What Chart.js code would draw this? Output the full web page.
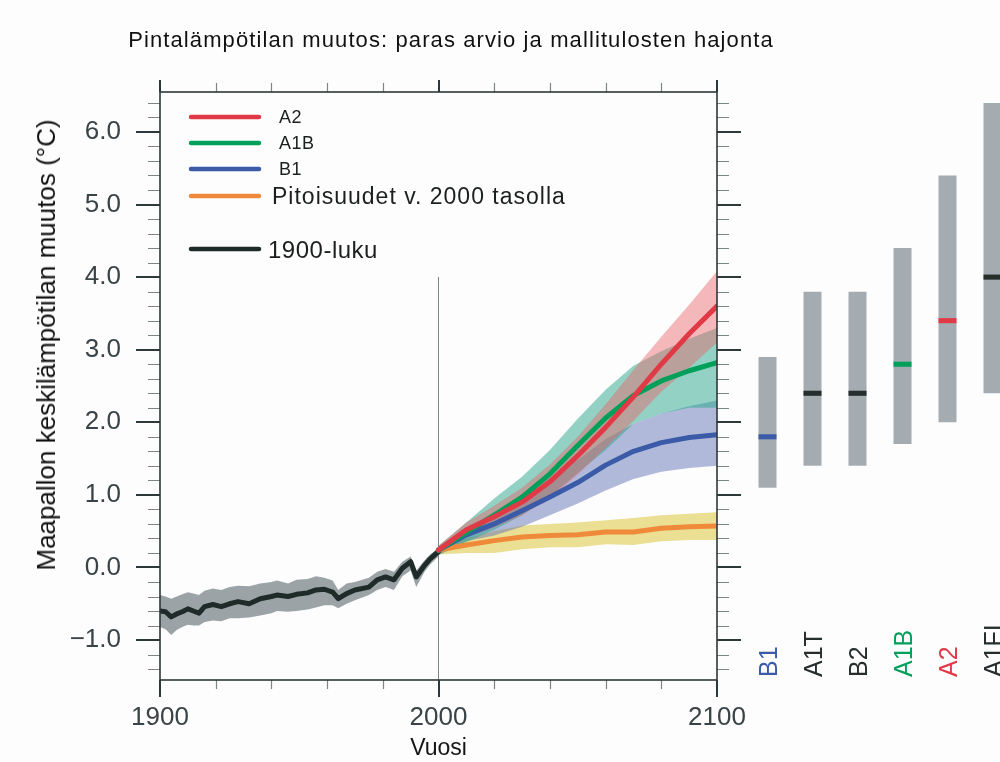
<!DOCTYPE html>
<html>
<head>
<meta charset="utf-8">
<script src="https://cdn.jsdelivr.net/npm/chart.js@4.4.1/dist/chart.umd.min.js"></script>
<style>
  html, body { margin: 0; padding: 0; background: #fdfdfd; overflow: hidden; }
  body { width: 1000px; height: 762px; position: relative; font-family: "Liberation Sans", Arial, sans-serif; }
  #main { position: absolute; left: 0; top: 0; }
  #side { position: absolute; left: 745px; top: 0; }
  #title { position: absolute; left: 0; width: 902px; top: 27px; line-height: 26px; text-align: center; font-size: 22px; letter-spacing: 1.1px; color: #111; }
  #ytitle { position: absolute; left: 46px; top: 345px; transform: translate(-50%, -50%) rotate(-90deg); white-space: nowrap; font-size: 26px; line-height: 30px; color: #111; }
</style>
</head>
<body>
<canvas id="main" width="1000" height="762"></canvas>
<canvas id="side" width="270" height="762"></canvas>
<div id="title">Pintalämpötilan muutos: paras arvio ja mallitulosten hajonta</div>
<div id="ytitle">Maapallon keskilämpötilan muutos (°C)</div>
<script>
// 1900-luku (havainnot)
const histYears = [1900, 1902, 1904, 1906, 1908, 1910, 1912, 1914, 1916, 1919, 1922, 1925, 1928, 1932, 1936, 1940, 1942, 1946, 1949, 1953, 1956, 1959, 1962, 1964, 1967, 1970, 1975, 1978, 1981, 1984, 1987, 1990, 1992, 1995, 1997, 2000];
const histMean = [-0.60, -0.61, -0.68, -0.64, -0.61, -0.57, -0.60, -0.63, -0.54, -0.51, -0.54, -0.50, -0.47, -0.50, -0.43, -0.40, -0.38, -0.40, -0.37, -0.35, -0.31, -0.30, -0.34, -0.43, -0.36, -0.31, -0.27, -0.17, -0.13, -0.17, -0.01, 0.08, -0.13, 0.03, 0.12, 0.22];
const histLow = [-0.82, -0.85, -0.93, -0.86, -0.82, -0.79, -0.80, -0.80, -0.75, -0.73, -0.74, -0.70, -0.70, -0.69, -0.66, -0.63, -0.60, -0.61, -0.60, -0.58, -0.55, -0.52, -0.52, -0.56, -0.50, -0.45, -0.38, -0.31, -0.27, -0.31, -0.12, -0.04, -0.27, -0.06, 0.04, 0.15];
const histHigh = [-0.38, -0.40, -0.43, -0.40, -0.37, -0.34, -0.36, -0.38, -0.32, -0.29, -0.31, -0.27, -0.25, -0.26, -0.22, -0.20, -0.18, -0.22, -0.17, -0.16, -0.12, -0.14, -0.18, -0.31, -0.22, -0.20, -0.14, -0.06, -0.02, -0.06, 0.08, 0.15, -0.04, 0.10, 0.18, 0.27];

// skenaariot 2000-2100
const projYears = [2000, 2010, 2020, 2030, 2040, 2050, 2060, 2070, 2080, 2090, 2100];
const a2Mean = [0.24, 0.52, 0.70, 0.90, 1.18, 1.54, 1.93, 2.35, 2.80, 3.22, 3.60];
const a2Low = [0.18, 0.42, 0.55, 0.72, 0.95, 1.28, 1.65, 2.02, 2.42, 2.75, 3.10];
const a2High = [0.30, 0.62, 0.85, 1.10, 1.42, 1.80, 2.25, 2.72, 3.18, 3.62, 4.08];
const a1bMean = [0.24, 0.48, 0.72, 0.97, 1.29, 1.68, 2.06, 2.37, 2.57, 2.71, 2.82];
const a1bLow = [0.17, 0.35, 0.52, 0.72, 0.98, 1.30, 1.62, 1.98, 2.12, 2.20, 2.20];
const a1bHigh = [0.30, 0.62, 0.95, 1.25, 1.62, 2.05, 2.45, 2.78, 2.98, 3.15, 3.30];
const b1Mean = [0.24, 0.45, 0.60, 0.78, 0.97, 1.17, 1.41, 1.60, 1.72, 1.79, 1.83];
const b1Low = [0.18, 0.36, 0.44, 0.56, 0.72, 0.88, 1.06, 1.22, 1.32, 1.37, 1.40];
const b1High = [0.29, 0.55, 0.76, 1.00, 1.24, 1.48, 1.77, 1.98, 2.12, 2.22, 2.30];
const constMean = [0.24, 0.31, 0.37, 0.42, 0.44, 0.45, 0.49, 0.49, 0.54, 0.56, 0.57];
const constLow = [0.18, 0.20, 0.20, 0.25, 0.28, 0.28, 0.32, 0.31, 0.36, 0.38, 0.38];
const constHigh = [0.29, 0.40, 0.50, 0.58, 0.60, 0.62, 0.65, 0.68, 0.72, 0.74, 0.76];

// akselit
const xTickValues = [1900, 2000, 2100];
const xMinorTicks = [1920, 1940, 1960, 1980, 2020, 2040, 2060, 2080];
const yTickValues = [-1, 0, 1, 2, 3, 4, 5, 6];

// pylväät oikealla (2090-2099)
const scenarios = ["B1", "A1T", "B2", "A1B", "A2", "A1FI"];
const rangeLow = [1.1, 1.4, 1.4, 1.7, 2.0, 2.4];
const rangeHigh = [2.9, 3.8, 3.8, 4.4, 5.4, 6.4];
const bestEstimate = [1.8, 2.4, 2.4, 2.8, 3.4, 4.0];

const legendLabels = ["A2", "A1B", "B1", "Pitoisuudet v. 2000 tasolla", "1900-luku"];

const RED = "#e13a47", GREEN = "#00a05b", BLUE = "#3b5ba8", ORANGE = "#ef8a3b", BLACK = "#1f2b29";
const DARK = "#252d2d";
const legendColors = [RED, GREEN, BLUE, ORANGE, BLACK];
const scenarioColors = [BLUE, DARK, DARK, GREEN, RED, DARK];

Chart.defaults.font.family = '"Liberation Sans", Arial, sans-serif';

const pts = (xs, ys) => xs.map((x, i) => ({ x, y: ys[i] }));

function line(years, values, color, width) {
  return { data: pts(years, values), borderColor: color, borderWidth: width, fill: false,
           borderCapStyle: "round", borderJoinStyle: "round" };
}

function band(years, low, high, color) {
  return [
    { data: pts(years, low), borderWidth: 0, borderColor: "transparent", fill: false },
    { data: pts(years, high), borderWidth: 0, borderColor: "transparent", backgroundColor: color, fill: "-1" },
  ];
}

const frameTicks = {
  id: "frameTicks",
  afterDatasetsDraw(chart) {
    const { ctx, chartArea: a, scales: { x, y } } = chart;
    ctx.save();
    ctx.strokeStyle = "#7d8585";
    ctx.lineWidth = 1.2;
    ctx.beginPath();
    for (let v = -1.4; v < 6.5; v += 0.2) {
      if (Math.abs(v - Math.round(v)) < 0.01) continue;
      const p = Math.round(y.getPixelForValue(v)) + 0.5;
      ctx.moveTo(a.left - 12, p); ctx.lineTo(a.left, p);
      ctx.moveTo(a.right, p); ctx.lineTo(a.right + 12, p);
    }
    xMinorTicks.forEach(v => {
      const p = Math.round(x.getPixelForValue(v)) + 0.5;
      ctx.moveTo(p, a.bottom); ctx.lineTo(p, a.bottom + 9);
      ctx.moveTo(p, a.top); ctx.lineTo(p, a.top - 9);
    });
    ctx.stroke();

    ctx.strokeStyle = "#2d3838";
    ctx.lineWidth = 2;
    ctx.beginPath();
    yTickValues.forEach(v => {
      const p = Math.round(y.getPixelForValue(v));
      ctx.moveTo(a.left - 24, p); ctx.lineTo(a.left, p);
      ctx.moveTo(a.right, p); ctx.lineTo(a.right + 24, p);
    });
    xTickValues.forEach(v => {
      const p = Math.round(x.getPixelForValue(v));
      ctx.moveTo(p, a.bottom); ctx.lineTo(p, a.bottom + 17);
      ctx.moveTo(p, a.top); ctx.lineTo(p, a.top - 12);
    });
    ctx.stroke();
    ctx.lineWidth = 1.6;
    ctx.strokeRect(a.left, a.top, a.right - a.left, a.bottom - a.top);
    ctx.restore();
  }
};

const legendBox = {
  id: "legendBox",
  afterDraw(chart) {
    const { ctx } = chart;
    const rowY = [117, 143, 169, 196, 249];
    const sizes = [18, 18, 18, 23, 24];
    const textX = [279, 279, 279, 272, 268];
    ctx.save();
    ctx.lineCap = "round";
    legendLabels.forEach((label, i) => {
      ctx.strokeStyle = legendColors[i];
      ctx.lineWidth = 4.5;
      ctx.beginPath();
      ctx.moveTo(191, rowY[i]); ctx.lineTo(259, rowY[i]);
      ctx.stroke();
      ctx.fillStyle = "#1c1f1f";
      ctx.font = sizes[i] + 'px "Liberation Sans", Arial, sans-serif';
      ctx.letterSpacing = i === 3 ? "1px" : "0.5px";
      ctx.textBaseline = "alphabetic";
      ctx.fillText(label, textX[i], rowY[i] + sizes[i] * 0.36);
    });
    ctx.restore();
  }
};

new Chart(document.getElementById("main"), {
  type: "line",
  data: {
    datasets: [
      line(projYears, a2Mean, RED, 5),
      line(projYears, a1bMean, GREEN, 5),
      line(projYears, b1Mean, BLUE, 5),
      line(projYears, constMean, ORANGE, 5),
      line(histYears, histMean, BLACK, 5),
      ...band(projYears, a2Low, a2High, "rgba(232, 100, 105, 0.45)"),
      ...band(projYears, a1bLow, a1bHigh, "rgba(40, 165, 140, 0.5)"),
      ...band(projYears, b1Low, b1High, "rgba(95, 110, 180, 0.48)"),
      ...band(projYears, constLow, constHigh, "rgba(218, 198, 60, 0.55)"),
      ...band(histYears, histLow, histHigh, "#9ba3a7"),
      { data: [{ x: 2000, y: 4.0 }, { x: 2000, y: -1.55 }], borderColor: "#7e8686", borderWidth: 1, fill: false },
    ]
  },
  options: {
    responsive: false,
    animation: false,
    devicePixelRatio: 1,
    layout: { padding: { top: 92, right: 283, bottom: 0, left: 0 } },
    plugins: { legend: { display: false }, tooltip: { enabled: false } },
    elements: { point: { radius: 0 }, line: { tension: 0 } },
    scales: {
      x: {
        type: "linear", min: 1900, max: 2100,
        afterBuildTicks: s => { s.ticks = xTickValues.map(v => ({ value: v })); },
        afterFit: s => { s.height = 82; },
        grid: { display: false, drawTicks: false },
        border: { display: false },
        ticks: { padding: 22, color: "#3a4345", font: { size: 26 }, maxRotation: 0, callback: v => String(v) },
        title: { display: true, text: "Vuosi", color: "#151515", font: { size: 23 }, padding: 0 }
      },
      y: {
        type: "linear", min: -1.55, max: 6.55,
        afterBuildTicks: s => { s.ticks = yTickValues.map(v => ({ value: v })); },
        afterFit: s => { s.width = 160; },
        grid: { display: false, drawTicks: false },
        border: { display: false },
        ticks: { padding: 39, color: "#3a4345", font: { size: 26 },
                 callback: v => (v < 0 ? "\u2212" + Math.abs(v).toFixed(1) : v.toFixed(1)) }
      }
    }
  },
  plugins: [frameTicks, legendBox]
});

const barLabels = {
  id: "barLabels",
  afterDraw(chart) {
    const { ctx, scales: { x } } = chart;
    ctx.save();
    ctx.font = '25px "Liberation Sans", Arial, sans-serif';
    ctx.textAlign = "left";
    ctx.textBaseline = "alphabetic";
    scenarios.forEach((name, i) => {
      ctx.save();
      ctx.translate(x.getPixelForValue(i), 677);
      ctx.rotate(-Math.PI / 2);
      ctx.fillStyle = scenarioColors[i];
      ctx.fillText(name, 0, 9);
      ctx.restore();
    });
    ctx.restore();
  }
};

new Chart(document.getElementById("side"), {
  type: "bar",
  data: {
    labels: scenarios,
    datasets: [
      { data: bestEstimate.map(v => [v - 0.035, v + 0.035]), backgroundColor: scenarioColors,
        grouped: false, barPercentage: 0.4, categoryPercentage: 1 },
      { data: rangeLow.map((v, i) => [v, rangeHigh[i]]), backgroundColor: "#a4acb2",
        grouped: false, barPercentage: 0.4, categoryPercentage: 1 },
    ]
  },
  options: {
    responsive: false,
    animation: false,
    devicePixelRatio: 1,
    layout: { padding: { top: 92, right: 0, bottom: 82, left: 0 } },
    plugins: { legend: { display: false }, tooltip: { enabled: false } },
    scales: {
      x: { type: "category", display: false },
      y: { type: "linear", display: false, min: -1.55, max: 6.55 }
    }
  },
  plugins: [barLabels]
});
</script>
</body>
</html>
